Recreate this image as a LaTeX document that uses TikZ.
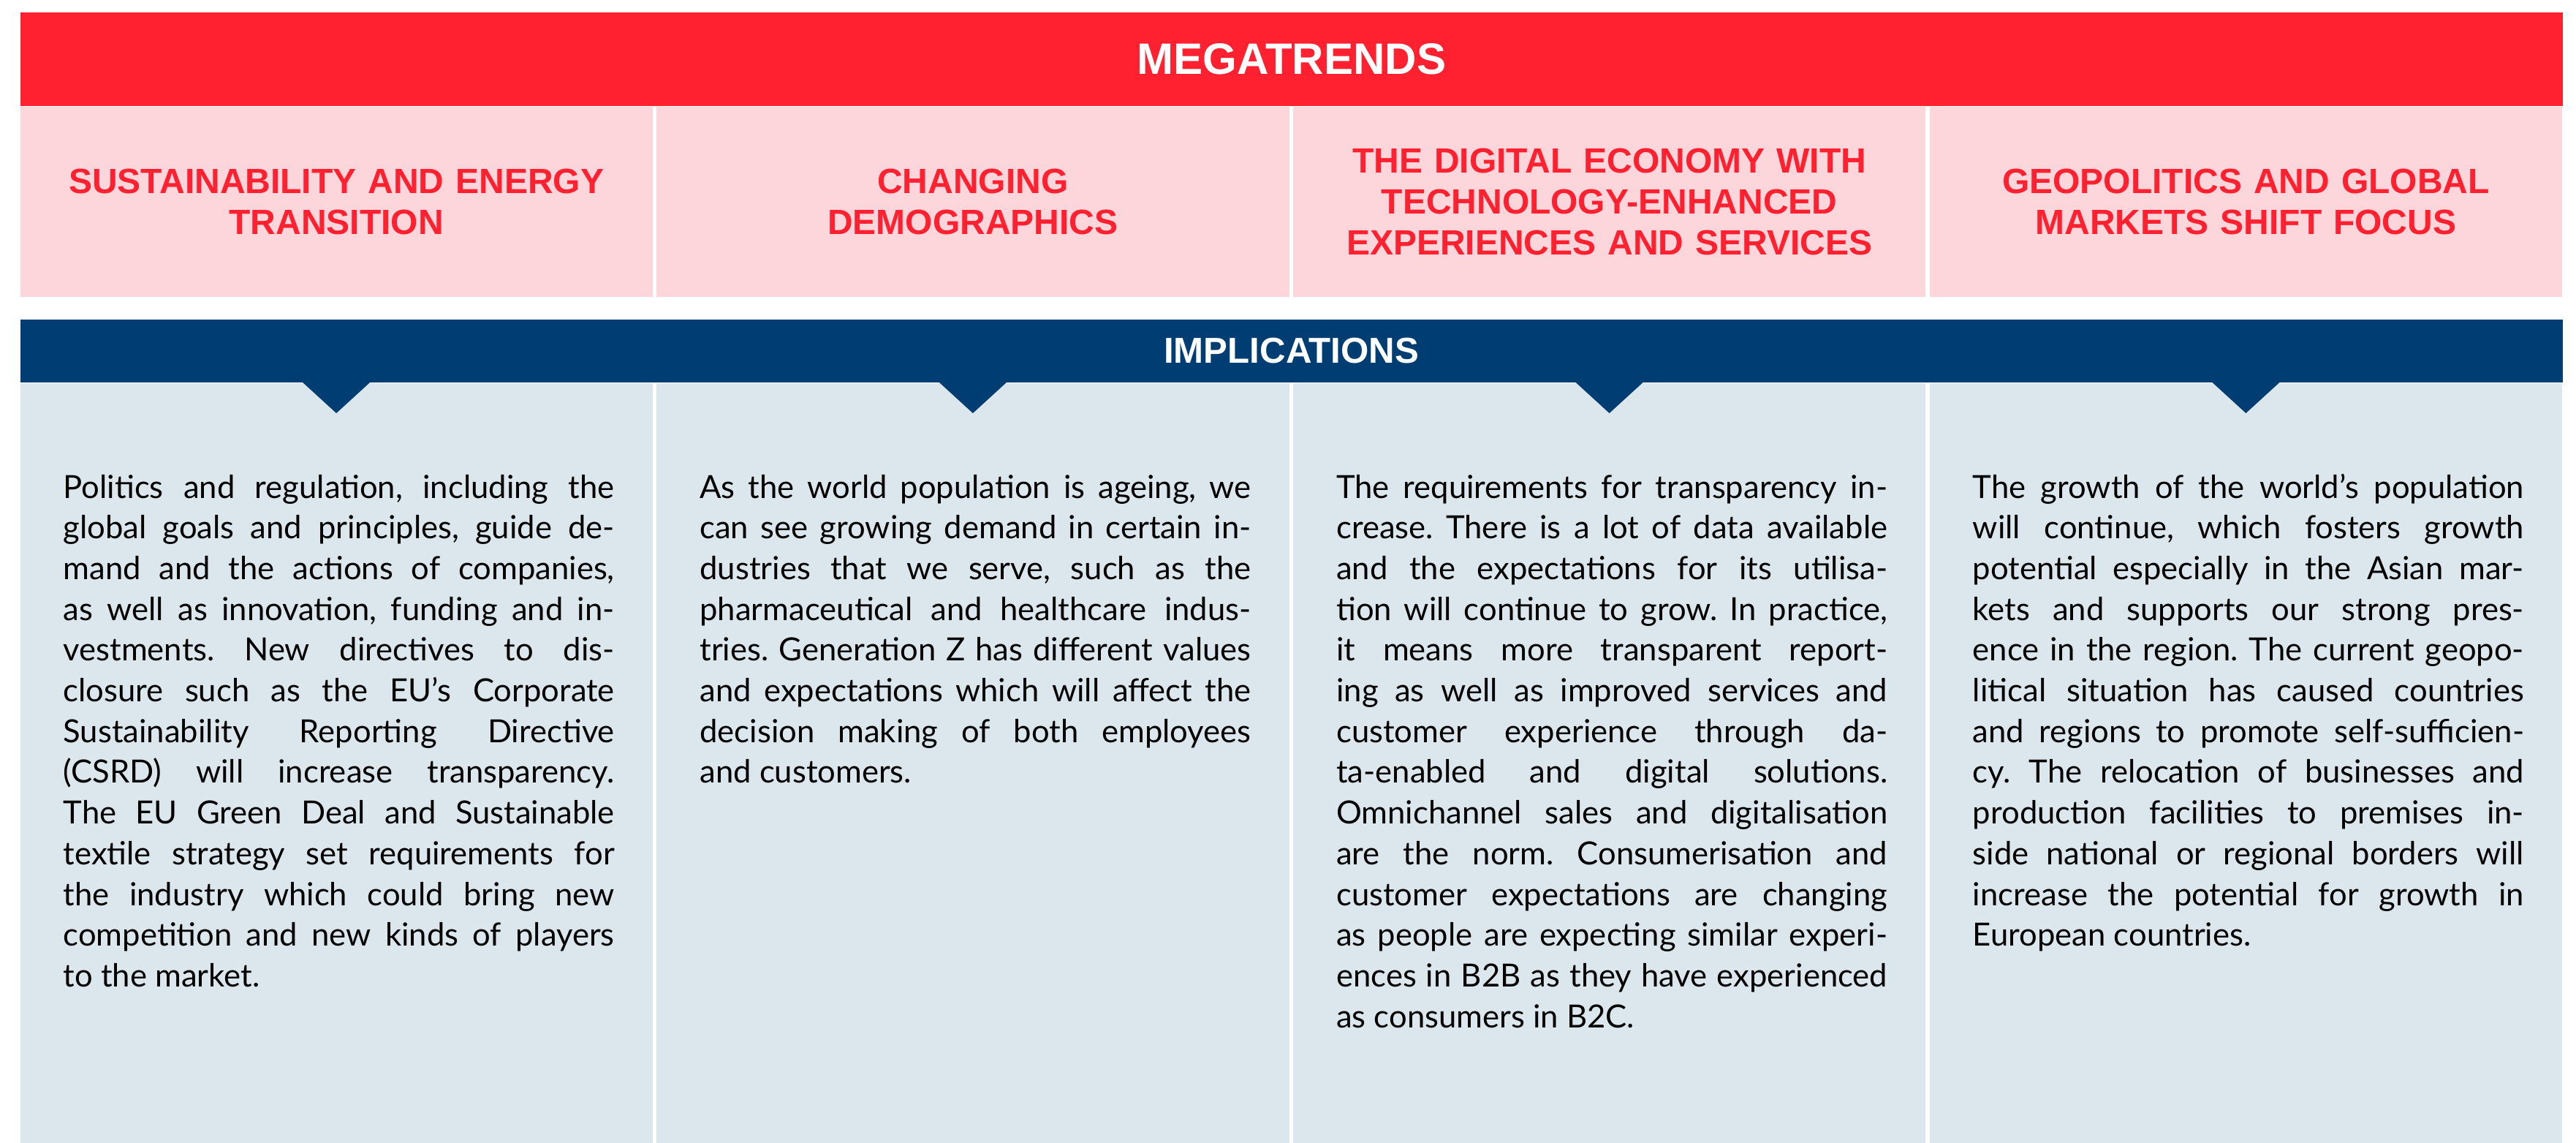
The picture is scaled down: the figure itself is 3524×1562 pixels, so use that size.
\documentclass[tikz,border=0pt]{standalone}
\usepackage{fontspec}
\setmainfont{Lato}
\newfontfamily\headfont{Liberation Sans}
\definecolor{mtred}{RGB}{255,32,48}
\definecolor{mtpink}{RGB}{253,214,219}
\definecolor{mtnavy}{RGB}{0,61,115}
\definecolor{mtlight}{RGB}{220,230,237}
\frenchspacing
\newcommand\bodyfont{\fontsize{12.4pt}{15.85pt}\selectfont
    \tolerance=10000\hyphenpenalty=10000\exhyphenpenalty=10000}
\begin{document}
\begin{tikzpicture}[x=0.1mm,y=-0.1mm,
        bar/.style={minimum width=347.85mm,inner sep=0pt,text=white,
            font=\headfont\bfseries},
        trend/.style={fill=mtpink,minimum width=86.52mm,minimum height=26mm,
            inner sep=0pt,text width=80mm,align=center,text=mtred,
            font=\headfont\bfseries\fontsize{13.65pt}{15.9pt}\selectfont},
        cell/.style={fill=mtlight,minimum width=86.52mm,minimum height=105mm,
            inner sep=0pt,anchor=north},
        body/.style={text width=75.4mm,inner sep=0pt,align=justify,
            anchor=base west,font=\bodyfont}]
\useasboundingbox (0,0) rectangle (3524,1562);

% megatrends
\node[trend] (sust) at (460.1,276) {SUSTAINABILITY AND ENERGY\\TRANSITION};
\node[trend] (demo) at (1330.9,276) {CHANGING\\DEMOGRAPHICS};
\node[trend] (digi) at (2201.6,276) {THE DIGITAL ECONOMY WITH\\TECHNOLOGY-ENHANCED\\EXPERIENCES AND SERVICES};
\node[trend] (geo) at (3072.4,276) {GEOPOLITICS AND GLOBAL\\MARKETS SHIFT FOCUS};
\node[bar,fill=mtred,minimum height=12.8mm,font=\headfont\bfseries\fontsize{17.1pt}{20pt}\selectfont]
    (mega) at (1766.75,81) {MEGATRENDS};

% implications
\foreach \x [count=\i] in {460.1,1330.9,2201.6,3072.4}
    \node[cell] (cell\i) at (\x,523) {};
\node[bar,fill=mtnavy,minimum height=8.65mm,font=\headfont\bfseries\fontsize{14pt}{16pt}\selectfont]
    (impl) at (1766.75,480) {IMPLICATIONS};
\foreach \x in {460.1,1330.9,2201.6,3072.4}
    \fill[mtnavy] (\x-47,522) -- (\x+47,522) -- (\x,565) -- cycle;

\node[body] (sustxt) at (86,681) {Politics and regulation, including the\linebreak
global goals and principles, guide de-\linebreak
mand and the actions of companies,\linebreak
as well as innovation, funding and in-\linebreak
vestments. New directives to dis-\linebreak
closure such as the EU’s Corporate\linebreak
Sustainability Reporting Directive\linebreak
(CSRD) will increase transparency.\linebreak
The EU Green Deal and Sustainable\linebreak
textile strategy set requirements for\linebreak
the industry which could bring new\linebreak
competition and new kinds of players\linebreak
to the market.};

\node[body] (demotxt) at (956.75,681) {As the world population is ageing, we\linebreak
can see growing demand in certain in-\linebreak
dustries that we serve, such as the\linebreak
pharmaceutical and healthcare indus-\linebreak
tries. Generation Z has different values\linebreak
and expectations which will affect the\linebreak
decision making of both employees\linebreak
and customers.};

\node[body] (digitxt) at (1827.5,681) {The requirements for transparency in-\linebreak
crease. There is a lot of data available\linebreak
and the expectations for its utilisa-\linebreak
tion will continue to grow. In practice,\linebreak
it means more transparent report-\linebreak
ing as well as improved services and\linebreak
customer experience through da-\linebreak
ta-enabled and digital solutions.\linebreak
Omnichannel sales and digitalisation\linebreak
are the norm. Consumerisation and\linebreak
customer expectations are changing\linebreak
as people are expecting similar experi-\linebreak
ences in B2B as they have experienced\linebreak
as consumers in B2C.};

\node[body] (geotxt) at (2698.25,681) {The growth of the world’s population\linebreak
will continue, which fosters growth\linebreak
potential especially in the Asian mar-\linebreak
kets and supports our strong pres-\linebreak
ence in the region. The current geopo-\linebreak
litical situation has caused countries\linebreak
and regions to promote self-sufficien-\linebreak
cy. The relocation of businesses and\linebreak
production facilities to premises in-\linebreak
side national or regional borders will\linebreak
increase the potential for growth in\linebreak
European countries.};
\end{tikzpicture}
\end{document}
